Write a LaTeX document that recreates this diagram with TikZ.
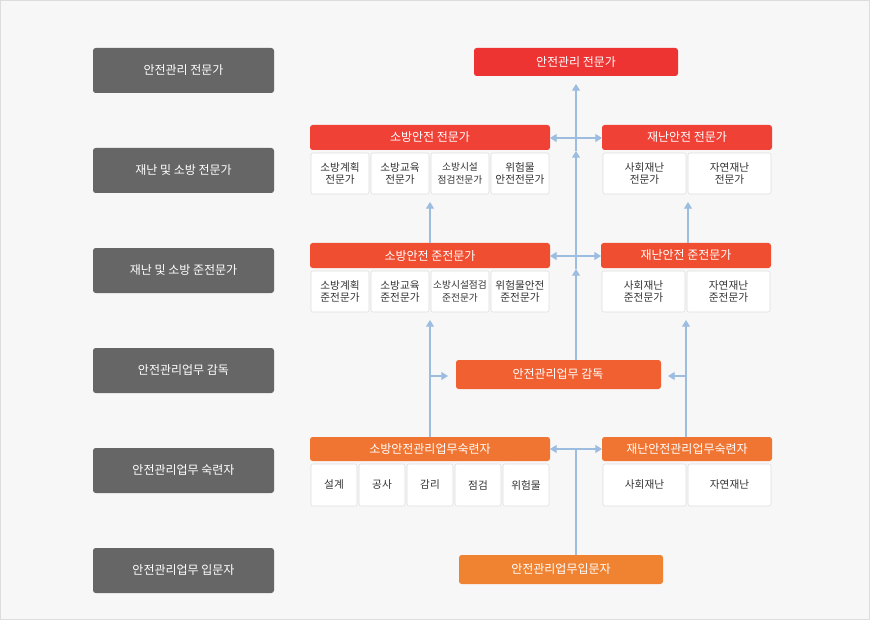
\documentclass[tikz,border=0pt]{standalone}
\usepackage{fontspec}
\setmainfont{Noto Sans CJK KR}
\usetikzlibrary{arrows.meta}
\definecolor{bg}{HTML}{F7F7F7}
\definecolor{lbox}{HTML}{666666}
\definecolor{cred}{HTML}{EE3333}
\definecolor{cr2}{HTML}{EF4136}
\definecolor{cr3}{HTML}{F04E30}
\definecolor{cr4}{HTML}{F06030}
\definecolor{cr5}{HTML}{F07532}
\definecolor{cr6}{HTML}{F08332}
\definecolor{ln}{HTML}{9DBDE0}
\definecolor{cellb}{HTML}{DDDDDD}
\definecolor{txt}{HTML}{333333}
\tikzset{
 lb/.style={fill=lbox,rounded corners=2pt,text=white,font=\fontsize{9}{11}\selectfont},
 hd/.style={rounded corners=2pt,text=white,font=\fontsize{9}{11}\selectfont},
 cl/.style={fill=white,draw=cellb,rounded corners=1.5pt,text=txt,align=center,font=\fontsize{8}{9.5}\selectfont},
 cn/.style={draw=ln,line width=0.8pt},
 ar/.style={cn,-{Triangle[length=5pt,width=6pt]}},
 dar/.style={cn,{Triangle[length=5pt,width=6pt]}-{Triangle[length=5pt,width=6pt]}}
}
\newcommand{\bx}[7]{\path[#6] (#2,#3) rectangle (#4,#5); \node[text=white] (#1) at ({(#2+#4)/2},{(#3+#5)/2}) {#7};}
\newcommand{\cx}[6]{\path[cl] (#2+1,#3) rectangle (#4-1,#5); \node[cl,draw=none,fill=none] (#1) at ({(#2+#4)/2},{(#3+#5)/2}) {#6};}
\begin{document}
\begin{tikzpicture}[x=0.75pt,y=-0.75pt]
\path[fill=bg,draw=cellb] (0.5,0.5) rectangle (869.5,619.5);
\useasboundingbox (0,0) rectangle (870,620);
% left
\foreach \y/\t/\n in {48/안전관리 전문가/l1,148/재난 및 소방 전문가/l2,248/재난 및 소방 준전문가/l3,348/안전관리업무 감독/l4,448/안전관리업무 숙련자/l5,548/안전관리업무 입문자/l6}{
 \path[lb] (93,\y) rectangle (274,\y+45);
 \node[lb,fill=none] (\n) at (183.5,\y+22.5) {\t};}
% headers
\path[hd,fill=cred] (474,48) rectangle (678,76); \node[hd] (top) at (576,62) {안전관리 전문가};
\path[hd,fill=cr2] (310,125) rectangle (550,150); \node[hd] (fe) at (430,137.5) {소방안전 전문가};
\path[hd,fill=cr2] (602,125) rectangle (772,150); \node[hd] (de) at (687,137.5) {재난안전 전문가};
\path[hd,fill=cr3] (310,243) rectangle (550,268); \node[hd] (fs) at (430,255.5) {소방안전 준전문가};
\path[hd,fill=cr3] (601,243) rectangle (771,268); \node[hd] (ds) at (686,255.5) {재난안전 준전문가};
\path[hd,fill=cr4] (456,360) rectangle (661,389); \node[hd] (sv) at (558,374.5) {안전관리업무 감독};
\path[hd,fill=cr5] (310,437) rectangle (550,461); \node[hd] (fk) at (430,449) {소방안전관리업무숙련자};
\path[hd,fill=cr5] (602,437) rectangle (772,461); \node[hd] (dk) at (687,449) {재난안전관리업무숙련자};
\path[hd,fill=cr6] (459,555) rectangle (663,584); \node[hd] (bg) at (561,569.5) {안전관리업무입문자};
% cells
\cx{c1}{310}{153}{370}{194}{소방계획\\전문가}
\cx{c2}{370}{153}{430}{194}{소방교육\\전문가}
\cx{c3}{430}{153}{490}{194}{\fontsize{7.3}{9}\selectfont 소방시설\\\fontsize{7.3}{9}\selectfont 점검전문가}
\cx{c4}{490}{153}{550}{194}{위험물\\안전전문가}
\cx{c5}{602}{153}{687}{194}{사회재난\\전문가}
\cx{c6}{687}{153}{772}{194}{자연재난\\전문가}
\cx{d1}{310}{271}{370}{312}{소방계획\\준전문가}
\cx{d2}{370}{271}{430}{312}{소방교육\\준전문가}
\cx{d3}{430}{271}{490}{312}{\fontsize{7.3}{9}\selectfont 소방시설점검\\\fontsize{7.3}{9}\selectfont 준전문가}
\cx{d4}{490}{271}{550}{312}{위험물안전\\준전문가}
\cx{d5}{601}{271}{686}{312}{사회재난\\준전문가}
\cx{d6}{686}{271}{771}{312}{자연재난\\준전문가}
\cx{e1}{310}{464}{358}{506}{설계}
\cx{e2}{358}{464}{406}{506}{공사}
\cx{e3}{406}{464}{454}{506}{감리}
\cx{e4}{454}{464}{502}{506}{점검}
\cx{e5}{502}{464}{550}{506}{위험물}
\cx{e6}{602}{464}{687}{506}{사회재난}
\cx{e7}{687}{464}{772}{506}{자연재난}
% connectors
\coordinate (m1) at (576,555); \coordinate (m2) at (576,449);
\coordinate (m3) at (576,360); \coordinate (m4) at (576,269);
\coordinate (m5) at (576,151); \coordinate (m6) at (576,84);
\draw[cn] (m1) -- (m2);
\draw[dar] (550,449) -- (602,449);
\draw[ar] (m3) -- (m4);
\draw[ar] (m4) -- (m5);
\draw[ar] (m5) -- (m6);
\draw[dar] (550,256) -- (601,256);
\draw[dar] (550,138) -- (602,138);
\draw[ar] (430,437) -- (430,320);
\draw[ar] (430,376) -- (448,376);
\draw[ar] (430,243) -- (430,202);
\draw[ar] (686,437) -- (686,320);
\draw[ar] (686,376) -- (668,376);
\draw[ar] (688,243) -- (688,202);
\end{tikzpicture}
\end{document}
